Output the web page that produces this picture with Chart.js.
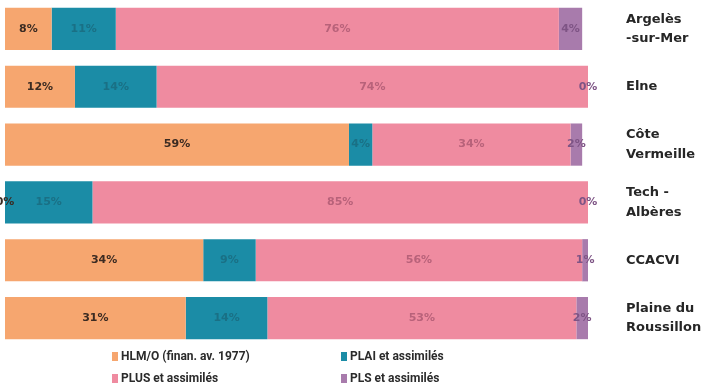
<!DOCTYPE html>
<html lang="fr">
<head>
<meta charset="utf-8">
<title>Logements sociaux par financement</title>
<script src="https://cdn.jsdelivr.net/npm/chart.js@4"></script>
<style>
  html, body { margin: 0; padding: 0; background: #fff; }
  #wrap { width: 712px; height: 390px; position: relative; }
</style>
</head>
<body>
<div id="wrap"><canvas id="parcChart" width="712" height="390"></canvas></div>
<script>
// Territoires (libellés à droite)
var territoires = [
  ['Argelès', '-sur-Mer'],
  ['Elne'],
  ['Côte', 'Vermeille'],
  ['Tech -', 'Albères'],
  ['CCACVI'],
  ['Plaine du', 'Roussillon']
];

// Part de chaque type de financement (%)
var hlmo = [8, 12, 59, 0, 34, 31];
var plai = [11, 14, 4, 15, 9, 14];
var plus = [76, 74, 34, 85, 56, 53];
var pls  = [4, 0, 2, 0, 1, 2];

var nomsSeries = ['HLM/O (finan. av. 1977)', 'PLAI et assimilés', 'PLUS et assimilés', 'PLS et assimilés'];
var couleurs = ['#f6a66f', '#1b8ca6', '#ef8ba0', '#a87bac'];
var couleursEtiquettes = ['#3b2b22', '#1a7085', '#b8627a', '#7e5485'];

// étiquettes de valeur au centre de chaque segment
var etiquettesValeurs = {
  id: 'etiquettesValeurs',
  afterDatasetsDraw: function (chart) {
    var ctx = chart.ctx;
    ctx.save();
    ctx.font = 'bold 11px "DejaVu Sans", sans-serif';
    ctx.textAlign = 'center';
    ctx.textBaseline = 'middle';
    chart.data.datasets.forEach(function (ds, i) {
      var meta = chart.getDatasetMeta(i);
      ctx.fillStyle = couleursEtiquettes[i];
      meta.data.forEach(function (bar, j) {
        var x = (bar.x + bar.base) / 2;
        ctx.fillText(ds.data[j] + '%', x, bar.y);
      });
    });
    ctx.restore();
  }
};

// légende sur deux colonnes sous le graphique
var legendeDeuxColonnes = {
  id: 'legendeDeuxColonnes',
  afterDraw: function (chart) {
    var ctx = chart.ctx;
    var colX = [112, 341];
    var rowY = [357, 379];
    ctx.save();
    ctx.font = 'bold 12px "Liberation Sans Narrow", "Roboto", sans-serif';
    ctx.textBaseline = 'middle';
    ctx.textAlign = 'left';
    chart.data.datasets.forEach(function (ds, i) {
      var x = colX[i % 2];
      var y = rowY[Math.floor(i / 2)];
      ctx.fillStyle = ds.backgroundColor;
      ctx.fillRect(x, y - 5, 6, 9);
      ctx.fillStyle = '#2b2b2b';
      ctx.fillText(ds.label, x + 9, y);
    });
    ctx.restore();
  }
};

var series = [hlmo, plai, plus, pls];

new Chart(document.getElementById('parcChart'), {
  type: 'bar',
  data: {
    labels: territoires,
    datasets: series.map(function (valeurs, i) {
      return {
        label: nomsSeries[i],
        data: valeurs,
        backgroundColor: couleurs[i],
        borderWidth: 0,
        barPercentage: 0.73,
        categoryPercentage: 1
      };
    })
  },
  options: {
    indexAxis: 'y',
    responsive: false,
    animation: false,
    layout: { padding: { left: 5, top: 0, bottom: 43, right: 0 } },
    plugins: {
      legend: { display: false },
      tooltip: { enabled: false }
    },
    scales: {
      x: {
        stacked: true,
        min: 0,
        max: 100,
        display: false
      },
      y: {
        stacked: true,
        position: 'right',
        grid: { display: false },
        border: { display: false },
        afterFit: function (scale) {
          scale.width = 124;
          scale.paddingTop = 0;
          scale.paddingBottom = 0;
        },
        ticks: {
          padding: 30,
          color: '#262626',
          font: { family: '"DejaVu Sans", sans-serif', size: 13, weight: 'bold', lineHeight: 1.5 }
        }
      }
    }
  },
  plugins: [etiquettesValeurs, legendeDeuxColonnes]
});
</script>
</body>
</html>
